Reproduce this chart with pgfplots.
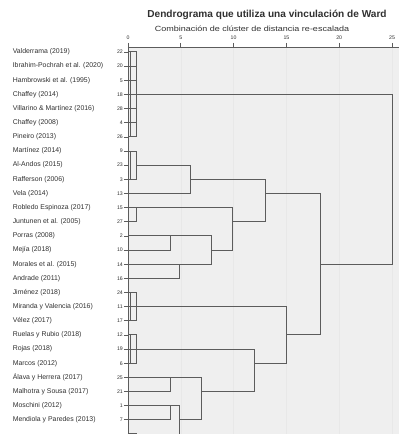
\documentclass[border=0pt]{standalone}
\usepackage{pgfplots}
\pgfplotsset{compat=1.18}
\usepackage{fontspec}
\setmainfont{Liberation Sans}
\definecolor{lin}{HTML}{5C5C5C}
\definecolor{bg}{HTML}{EFEFEF}
\definecolor{txt}{HTML}{303030}
\newcommand{\lab}[2]{\makebox[110pt]{\fontsize{6.9}{8}\selectfont #1\hfill\fontsize{5.2}{6}\selectfont #2}}
\tikzset{dend/.style={lin, line width=1pt, mark=none}}
\begin{document}
\begin{tikzpicture}[x=1pt,y=1pt]
\path[use as bounding box] (0,0) rectangle (400,434);
\begin{axis}[
  at={(128pt,0pt)}, anchor=south west, scale only axis,
  width=271.4pt, height=387pt,
  xmin=0, xmax=25.7, ymin=-28, ymax=-0.647,
  axis x line*=top, axis y line*=left,
  axis line style={lin, line width=0.9pt},
  axis background/.style={fill=bg},
  xmajorgrids, grid style={black!9, line width=0.4pt},
  xtick={0,5,...,25}, tick align=outside, major tick length=4pt,
  tick style={lin, line width=0.7pt},
  /pgf/number format/assume math mode=true,
  x tick label style={font=\fontsize{5.2}{6}\selectfont, text=txt},
  ytick={-27,-26,...,-1},
  yticklabels={
   {\lab{Mendiola y Paredes (2013)}{7}},
   {\lab{Moschini (2012)}{1}},
   {\lab{Malhotra y Sousa (2017)}{21}},
   {\lab{Álava y Herrera (2017)}{25}},
   {\lab{Marcos (2012)}{6}},
   {\lab{Rojas (2018)}{19}},
   {\lab{Ruelas y Rubio (2018)}{12}},
   {\lab{Vélez (2017)}{17}},
   {\lab{Miranda y Valencia (2016)}{11}},
   {\lab{Jiménez (2018)}{24}},
   {\lab{Andrade (2011)}{16}},
   {\lab{Morales et al. (2015)}{14}},
   {\lab{Mejía (2018)}{10}},
   {\lab{Porras (2008)}{2}},
   {\lab{Juntunen et al. (2005)}{27}},
   {\lab{Robledo Espinoza (2017)}{15}},
   {\lab{Vela (2014)}{13}},
   {\lab{Rafferson (2006)}{3}},
   {\lab{Al-Andos (2015)}{23}},
   {\lab{Martínez (2014)}{9}},
   {\lab{Pineiro (2013)}{26}},
   {\lab{Chaffey (2008)}{4}},
   {\lab{Villarino \& Martínez (2016)}{28}},
   {\lab{Chaffey (2014)}{18}},
   {\lab{Hambrowski et al. (1995)}{5}},
   {\lab{Ibrahim-Pochrah et al. (2020)}{20}},
   {\lab{Valderrama (2019)}{22}}
  },
  y tick label style={anchor=east, inner sep=0pt, xshift=-1pt, text=txt},
]
% cluster rows 1-7
\addplot[dend] coordinates {(0,-1) (0.85,-1) (0.85,-7) (0,-7)};
\addplot[dend] coordinates {(0,-2) (0.85,-2)};
\addplot[dend] coordinates {(0,-3) (0.85,-3)};
\addplot[dend] coordinates {(0,-5) (0.85,-5)};
\addplot[dend] coordinates {(0,-6) (0.85,-6)};
\addplot[dend] coordinates {(0.28,-1) (0.28,-7)};
\addplot[dend] coordinates {(0,-4) (25,-4) (25,-16) (18.2,-16)};
% rows 8-11
\addplot[dend] coordinates {(0,-8) (0.85,-8) (0.85,-10) (0,-10)};
\addplot[dend] coordinates {(0.28,-8) (0.28,-10)};
\addplot[dend] coordinates {(0.85,-9) (5.9,-9) (5.9,-11) (0,-11)};
\addplot[dend] coordinates {(5.9,-10) (13,-10) (13,-13) (9.85,-13)};
% rows 12-13
\addplot[dend] coordinates {(0,-12) (0.85,-12) (0.85,-13) (0,-13)};
\addplot[dend] coordinates {(0.85,-12) (9.85,-12) (9.85,-15) (7.95,-15)};
% rows 14-17
\addplot[dend] coordinates {(0,-14) (3.98,-14) (3.98,-15) (0,-15)};
\addplot[dend] coordinates {(0,-16) (4.92,-16) (4.92,-17) (0,-17)};
\addplot[dend] coordinates {(3.98,-14) (7.95,-14) (7.95,-16) (4.92,-16)};
% link at 18.2
\addplot[dend] coordinates {(13,-11) (18.2,-11) (18.2,-21) (15.05,-21)};
% rows 18-20
\addplot[dend] coordinates {(0,-18) (0.85,-18) (0.85,-20) (0,-20)};
\addplot[dend] coordinates {(0.28,-18) (0.28,-20)};
\addplot[dend] coordinates {(0,-19) (15.05,-19) (15.05,-23) (12,-23)};
% rows 21-23
\addplot[dend] coordinates {(0,-21) (0.85,-21) (0.85,-23) (0,-23)};
\addplot[dend] coordinates {(0.28,-21) (0.28,-23)};
\addplot[dend] coordinates {(0,-22) (12,-22) (12,-25) (7,-25)};
% rows 24-28
\addplot[dend] coordinates {(0,-24) (3.98,-24) (3.98,-25) (0,-25)};
\addplot[dend] coordinates {(3.98,-24) (7,-24) (7,-27) (4.92,-27)};
\addplot[dend] coordinates {(0,-26) (3.98,-26) (3.98,-27) (0,-27)};
\addplot[dend] coordinates {(3.98,-26) (4.92,-26) (4.92,-30)};
\addplot[dend] coordinates {(0,-28) (0.85,-28)};
\end{axis}
\node[text=txt, font=\bfseries\fontsize{10.1}{12}\selectfont] at (267,419) {Dendrograma que utiliza una vinculación de Ward};
\node[text=txt, font=\fontsize{7.5}{9}\selectfont, xscale=1.2] at (252,405) {Combinación de clúster de distancia re-escalada};
\end{tikzpicture}
\end{document}
